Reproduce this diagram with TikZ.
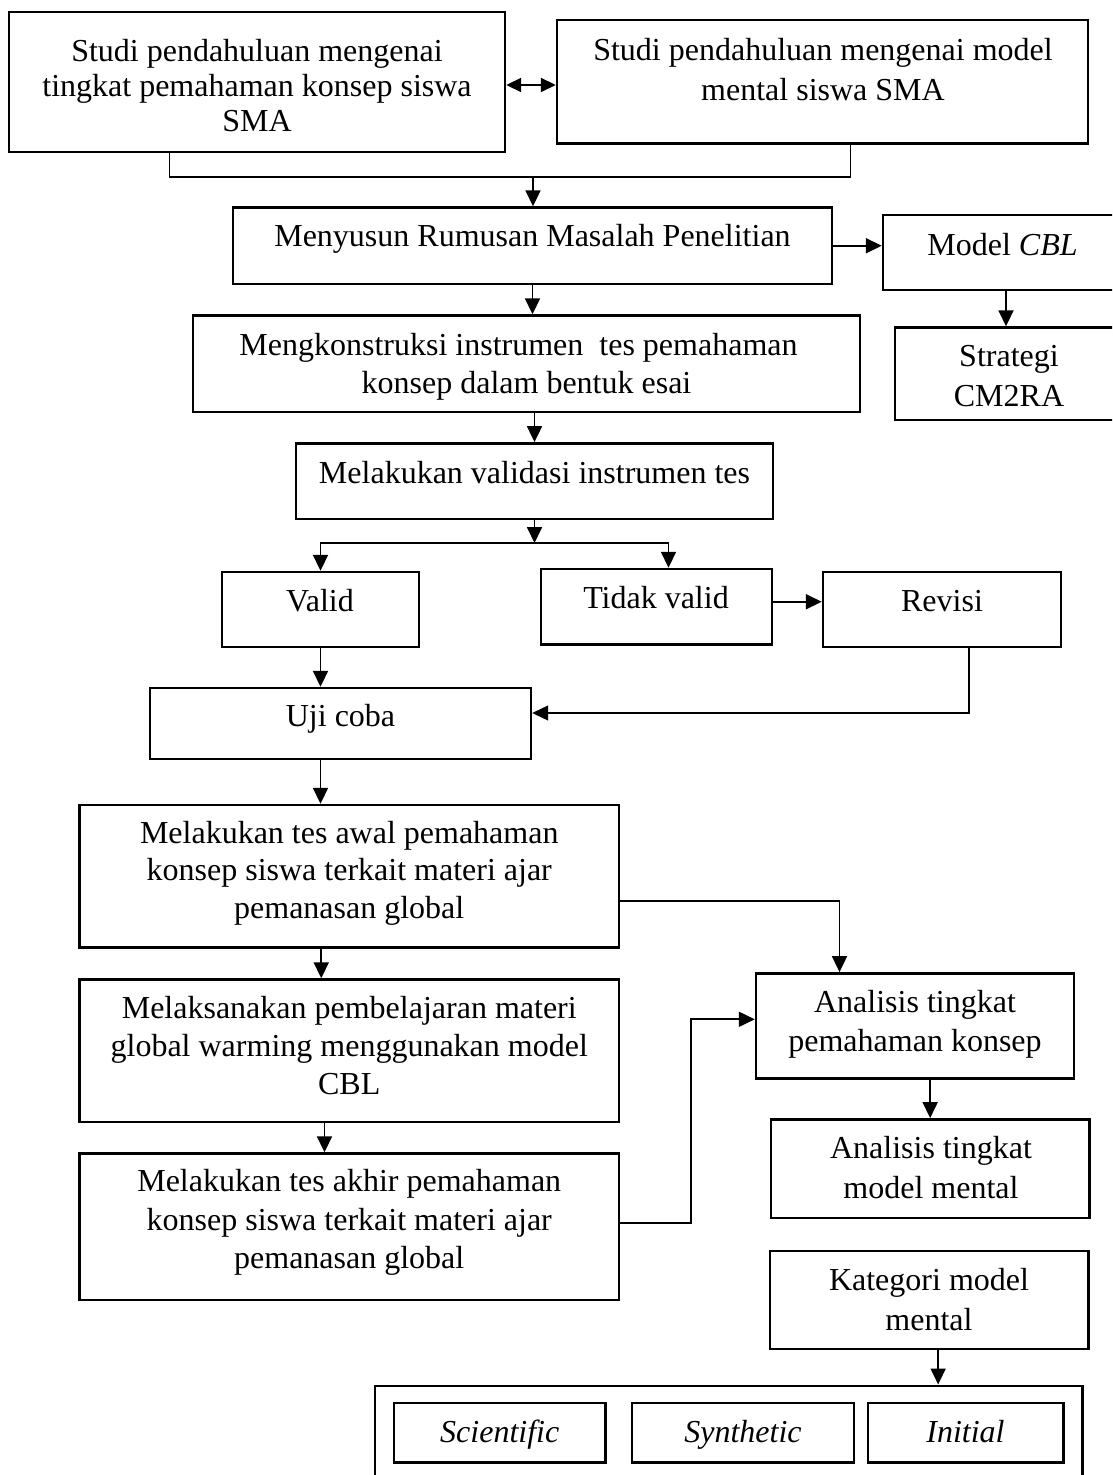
\documentclass[tikz,border=0pt]{standalone}
\usepackage{fontspec}
\setmainfont{Liberation Serif}
\usetikzlibrary{arrows.meta,fit}
\newcommand\ml[2]{{\fontsize{32}{#1}\selectfont\vtop{\halign{\hfil##\hfil\cr#2\crcr}}}}
\begin{document}
\begin{tikzpicture}[x=1pt,y=-1pt,
  box/.style={draw,line width=2.4pt,inner sep=0pt},
  txt/.style={anchor=base,inner sep=0pt,font=\fontsize{32}{38}\selectfont},
  ln/.style={line width=1.8pt},
  arr/.style={ln,-{Triangle[length=16pt,width=15pt]}},
  thinarr/.style={line width=1.1pt,-{Triangle[length=16pt,width=15pt]}},
  dbl/.style={ln,{Triangle[length=15pt,width=14pt]}-{Triangle[length=15pt,width=14pt]}}
]
\useasboundingbox (0,0) rectangle (1112,1475);
\clip (0,0) rectangle (1112,1475);
\fill[white] (0,0) rectangle (1112,1475);

% boxes
\node[box,fit={(9,12)(505,152)}] (b1) {};
\node[box,fit={(557,20)(1088,143.5)}] (b2) {};
\node[box,fit={(233,207.5)(832,284)}] (b3) {};
\node[box,fit={(883,215)(1129,290)}] (cbl) {};
\node[box,fit={(895,327.5)(1130,420)}] (str) {};
\node[box,fit={(193,315.5)(860,411.7)}] (b4) {};
\node[box,fit={(296,443.3)(773,519)}] (b5) {};
\node[box,fit={(222,572)(419,647)}] (valid) {};
\node[box,fit={(541,569)(772,644.5)}] (tidak) {};
\node[box,fit={(823,572)(1061,647)}] (revisi) {};
\node[box,fit={(150,688)(531,759)}] (uji) {};
\node[box,fit={(79.5,805)(619,947.5)}] (b6) {};
\node[box,fit={(79.5,979.5)(619,1122)}] (b7) {};
\node[box,fit={(79.5,1153.5)(619,1300)}] (b8) {};
\node[box,fit={(756,973.3)(1074,1078.3)}] (a1) {};
\node[box,fit={(771,1119.3)(1089.3,1217.7)}] (a2) {};
\node[box,fit={(770,1251)(1088.3,1349)}] (kat) {};
\node[box,fit={(375,1385.7)(1082.3,1500)}] (big) {};
\node[box,fit={(394,1403)(605.5,1462.5)}] (sci) {};
\node[box,fit={(632,1403)(854,1462.5)}] (syn) {};
\node[box,fit={(867.7,1403)(1063.3,1462.5)}] (ini) {};

% texts
\node[txt] (t1) at (257,61) {\ml{35.3}{Studi pendahuluan mengenai\cr tingkat pemahaman konsep siswa\cr SMA}};
\node[txt] (t2) at (823,60) {\ml{40}{Studi pendahuluan mengenai model\cr mental siswa SMA}};
\node[txt] (t3) at (532.5,246.7) {Menyusun Rumusan Masalah Penelitian};
\node[txt] (tcbl) at (1002.5,255) {Model \textit{CBL}};
\node[txt] (tstr) at (1009,366.7) {\ml{40}{Strategi\cr CM2RA}};
\node[txt] (t4) at (526.5,355) {\ml{38.3}{Mengkonstruksi instrumen\ \ tes pemahaman\ \ \cr konsep dalam bentuk esai}};
\node[txt] (t5) at (534.5,483.3) {Melakukan validasi instrumen tes};
\node[txt] (tvalid) at (320,611.7) {Valid};
\node[txt] (ttidak) at (656,608.3) {Tidak valid};
\node[txt] (trev) at (942,611.7) {Revisi};
\node[txt] (tuji) at (340.5,726.7) {Uji coba};
\node[txt] (t6) at (349.25,843.3) {\ml{37.5}{Melakukan tes awal pemahaman\cr konsep siswa terkait materi ajar\cr pemanasan global}};
\node[txt] (t7) at (349.25,1018.3) {\ml{38.3}{Melaksanakan pembelajaran materi\cr global warming menggunakan model\cr CBL}};
\node[txt] (t8) at (349.25,1191.7) {\ml{38.3}{Melakukan tes akhir pemahaman\cr konsep siswa terkait materi ajar\cr pemanasan global}};
\node[txt] (ta1) at (915,1012.7) {\ml{39}{Analisis tingkat\cr pemahaman konsep}};
\node[txt] (ta2) at (931,1158.3) {\ml{40}{Analisis tingkat\cr model mental}};
\node[txt] (tkat) at (929,1290) {\ml{40}{Kategori model\cr mental}};
\node[txt] (tsci) at (499.75,1442) {\textit{Scientific}};
\node[txt] (tsyn) at (743,1442) {\textit{Synthetic}};
\node[txt] (tini) at (965.5,1442) {\textit{Initial}};

% connectors
\draw[dbl] ([yshift=-3pt]b1.east) -- ([yshift=-3pt]b1.east -| b2.west);
\coordinate (j1) at (533,177);
\draw[ln] ([xshift=-87.5pt]b1.south) |- ([xshift=28pt]b2.south |- j1) -- ([xshift=28pt]b2.south);
\draw[arr] (j1) -- (j1 |- b3.north);
\draw[arr] (b3.east) -- (b3.east -| cbl.west);
\draw[arr] (cbl.south) -- (cbl.south |- str.north);
\draw[arr] (b3.south) -- (b3.south |- b4.north);
\draw[arr] (b5.north |- b4.south) -- (b5.north);
\coordinate (j2) at (534.5,543);
\draw[arr] (b5.south) -- (j2);
\draw[arr] (j2) -| (valid.north);
\draw[arr] (j2) -| ([xshift=12pt]tidak.north);
\draw[arr] ([yshift=5pt]tidak.east) -- ([yshift=5pt]tidak.east -| revisi.west);
\draw[thinarr] ([xshift=27pt]revisi.south) |- ([yshift=10.5pt]uji.east);
\draw[arr] (valid.south) -- (valid.south |- uji.north);
\draw[arr] ([xshift=-20pt]uji.south) -- ([xshift=-20pt]uji.south |- b6.north);
\draw[arr] ([xshift=-28pt]b6.south) -- ([xshift=-28pt]b7.north);
\draw[arr] ([xshift=-24.75pt]b7.south) -- ([xshift=-24.75pt]b8.north);
\coordinate (c1) at (839.5,901);
\draw[arr] (b6.east |- c1) -| (a1.north -| c1);
\coordinate (c2) at (690.7,1223);
\draw[arr] (b8.east |- c2) -- (c2) |- ([yshift=6.5pt]a1.west);
\draw[arr] (a2.north |- a1.south) -- (a2.north);
\draw[arr] ([xshift=9pt]kat.south) -- ([xshift=9pt]kat.south |- big.north);
\end{tikzpicture}
\end{document}
